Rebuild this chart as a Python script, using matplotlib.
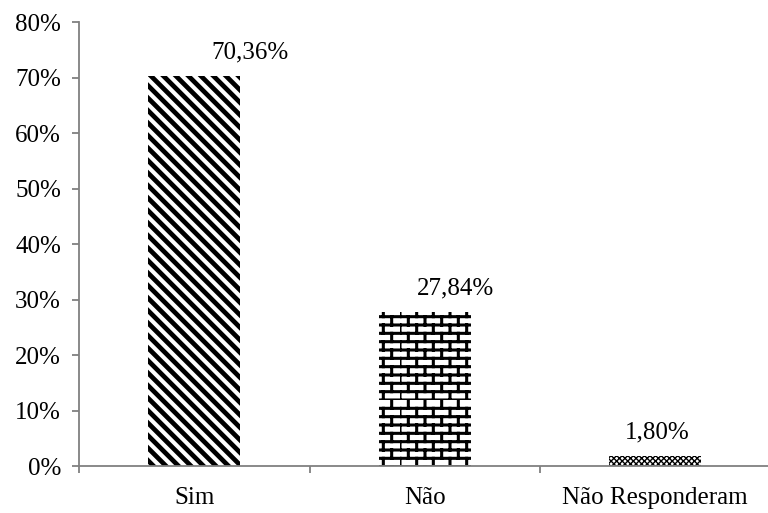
import warnings
import numpy as np
import matplotlib
matplotlib.use("Agg")
import matplotlib.pyplot as plt
from matplotlib import hatch as mhatch
from matplotlib.path import Path
from matplotlib.ticker import FuncFormatter

warnings.filterwarnings("ignore")

categorias = ["Sim", "Não", "Não Responderam"]
valores = [70.36, 27.84, 1.80]
rotulos = ["70,36%", "27,84%", "1,80%"]
# décalage horizontal des étiquettes (points)
label_dx = [40, 22, 1.5]


class BrickHatch(mhatch.HatchPatternBase):
    '''Motif de briques (caractère "b")'''
    def __init__(self, hatch, density):
        self.rows = 12
        self.cols = 6
        if 'b' in hatch:
            self.num_vertices = self.rows * 2 + self.rows * self.cols * 2
        else:
            self.num_vertices = 0

    def set_vertices_and_codes(self, vertices, codes):
        k = 0
        for r in range(self.rows):
            y0 = r / self.rows
            y1 = (r + 1) / self.rows
            vertices[k] = (0, y0)
            vertices[k + 1] = (1, y0)
            codes[k] = Path.MOVETO
            codes[k + 1] = Path.LINETO
            k += 2
            off = 0 if r % 2 == 0 else 0.5 / self.cols
            for j in range(self.cols):
                xx = off + j / self.cols
                vertices[k] = (xx, y0)
                vertices[k + 1] = (xx, y1)
                codes[k] = Path.MOVETO
                codes[k + 1] = Path.LINETO
                k += 2


class DiagHatch(mhatch.HatchPatternBase):
    '''Diagonales descendantes serrées (caractère "d")'''
    def __init__(self, hatch, density):
        # nombre pair pour que le motif se raccorde
        self.n = 16 if 'd' in hatch else 0
        self.num_vertices = (self.n + 1) * 2 if self.n else 0

    def set_vertices_and_codes(self, vertices, codes):
        steps = np.linspace(-0.5, 0.5, self.n + 1)
        vertices[0::2, 0] = 0.0 + steps
        vertices[0::2, 1] = 1.0 + steps
        vertices[1::2, 0] = 1.0 + steps
        vertices[1::2, 1] = 0.0 + steps
        codes[0::2] = Path.MOVETO
        codes[1::2] = Path.LINETO


mhatch._hatch_types.append(BrickHatch)
mhatch._hatch_types.append(DiagHatch)

plt.rcParams['font.family'] = ['Liberation Serif', 'DejaVu Serif']

fig = plt.figure(figsize=(7.68, 5.13), dpi=100)
ax = fig.add_axes([0.103, 0.0916, 0.897, 0.8654])

hachures = ['d', 'b', 'xxxxxx']
epaisseurs = [3.4, 2.2, 1.0]
x = np.arange(len(categorias))

bars = []
for i in range(len(categorias)):
    with plt.rc_context({'hatch.linewidth': epaisseurs[i], 'hatch.color': 'black'}):
        b = ax.bar(x[i], valores[i], width=0.4, color='white',
                   edgecolor='black', linewidth=0, hatch=hachures[i])
        for p in b:
            if hasattr(p, 'set_hatch_linewidth'):
                p.set_hatch_linewidth(epaisseurs[i])
        bars.append(b[0])

for i, b in enumerate(bars):
    ax.annotate(rotulos[i], (b.get_x() + b.get_width() / 2, b.get_height()),
                xytext=(label_dx[i], 9), textcoords='offset points',
                ha='center', va='bottom', fontsize=18)

ax.set_xlim(-0.5, 2.49)
ax.set_ylim(0, 80)
ax.set_yticks(range(0, 81, 10))
ax.yaxis.set_major_formatter(FuncFormatter(lambda v, pos: '%d%%' % v))
ax.set_xticks(x)
ax.set_xticklabels(categorias)
ax.set_xticks([-0.5, 0.5, 1.5], minor=True)

for s in ['top', 'right']:
    ax.spines[s].set_visible(False)
for s in ['left', 'bottom']:
    ax.spines[s].set_color('#808080')
    ax.spines[s].set_linewidth(1.3)

ax.tick_params(axis='y', direction='out', length=5, width=1.3, color='#808080',
               labelsize=18, pad=8)
ax.tick_params(axis='x', which='major', length=0, labelsize=18, pad=15)
ax.tick_params(axis='x', which='minor', length=5, width=1.3, color='#808080')

fig.savefig('out.png', dpi=100)
